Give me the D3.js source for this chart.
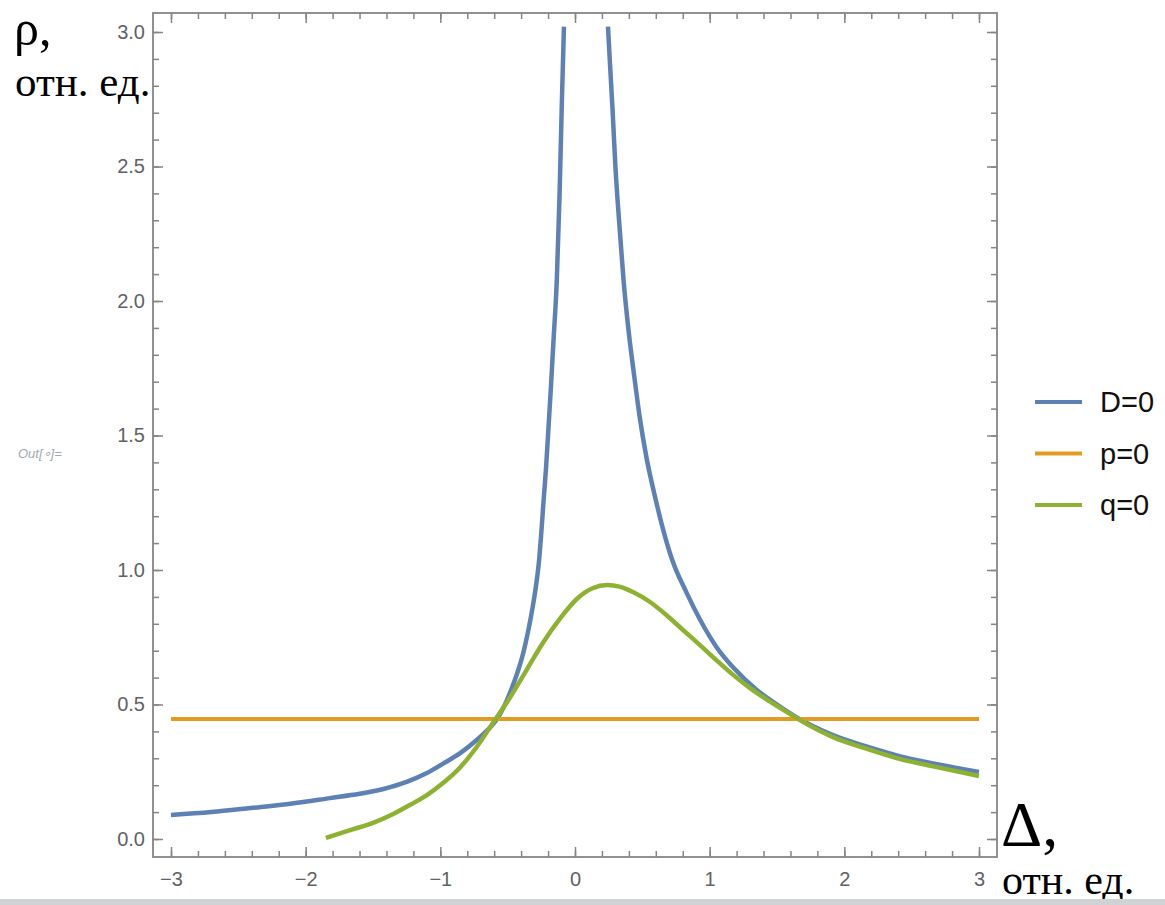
<!DOCTYPE html>
<html>
<head>
<meta charset="utf-8">
<script src="https://cdn.jsdelivr.net/npm/d3@7"></script>
<style>
  body { margin: 0; background: #fff; }
  svg { display: block; }
</style>
</head>
<body>
<div id="chart-area"></div>
<script>
// values
var dLeftX  = [-3.0, -2.7, -2.41, -2.1, -1.82, -1.6, -1.43, -1.25, -1.1, -0.98, -0.85, -0.73, -0.65, -0.58, -0.52, -0.47, -0.42, -0.38, -0.345, -0.315, -0.29, -0.268, -0.25, -0.233, -0.215, -0.198, -0.18, -0.16, -0.135, -0.115, -0.097, -0.082];
var dLeftY  = [0.089, 0.1, 0.115, 0.132, 0.152, 0.168, 0.185, 0.212, 0.245, 0.28, 0.32, 0.368, 0.405, 0.445, 0.5, 0.56, 0.63, 0.7, 0.78, 0.86, 0.94, 1.03, 1.14, 1.26, 1.38, 1.52, 1.67, 1.85, 2.08, 2.39, 2.75, 3.02];
var dRightX = [0.245, 0.26, 0.28, 0.3, 0.33, 0.36, 0.4, 0.44, 0.48, 0.53, 0.6, 0.66, 0.72, 0.83, 0.93, 1.05, 1.17, 1.35, 1.5, 1.67, 1.92, 2.17, 2.41, 2.66, 3.0];
var dRightY = [3.02, 2.88, 2.7, 2.5, 2.28, 2.08, 1.88, 1.72, 1.57, 1.42, 1.26, 1.14, 1.04, 0.914, 0.814, 0.714, 0.64, 0.554, 0.5, 0.445, 0.385, 0.343, 0.308, 0.281, 0.249];
var qX = [-1.85, -1.67, -1.5, -1.35, -1.22, -1.1, -0.98, -0.85, -0.73, -0.61, -0.48, -0.36, -0.24, -0.11, 0.015, 0.13, 0.24, 0.33, 0.43, 0.557, 0.68, 0.8, 0.93, 1.05, 1.17, 1.3, 1.42, 1.55, 1.67, 1.92, 2.17, 2.41, 2.66, 3.0];
var qY = [0.004, 0.033, 0.06, 0.093, 0.128, 0.163, 0.208, 0.268, 0.342, 0.431, 0.528, 0.628, 0.728, 0.82, 0.893, 0.932, 0.944, 0.938, 0.918, 0.881, 0.832, 0.778, 0.72, 0.665, 0.612, 0.561, 0.52, 0.479, 0.442, 0.378, 0.335, 0.298, 0.27, 0.234];
var pX = [-3.0, 3.0];
var pY = [0.446, 0.446];

var xMajor = [-3, -2, -1, 0, 1, 2, 3];
var xLabels = ["\u22123", "\u22122", "\u22121", "0", "1", "2", "3"];
var yMajor = [0, 0.5, 1, 1.5, 2, 2.5, 3];
var yLabels = ["0.0", "0.5", "1.0", "1.5", "2.0", "2.5", "3.0"];
var legendNames = ["D=0", "p=0", "q=0"];
var colors = ["#5e81b5", "#e19c24", "#8fb131"];

var width = 1165, height = 905;
var frame = {left: 153, top: 13, right: 997, bottom: 857};

var svg = d3.select("#chart-area").append("svg")
    .attr("width", width)
    .attr("height", height);

var x = d3.scaleLinear().domain([-3, 3]).range([171, 979]);
var y = d3.scaleLinear().domain([0, 3]).range([839, 32]);

var xMinor = d3.range(-30, 31, 2).map((d) => d / 10);
var yMinor = d3.range(0, 31, 1).map((d) => d / 10);

function styleAxis(sel) {
    sel.select(".domain").remove();
    sel.selectAll(".tick line").attr("stroke", "#858585").attr("stroke-width", 1.5);
    sel.selectAll(".tick text")
        .attr("fill", "#5f6266")
        .style("font-family", "'Liberation Sans', Arial, sans-serif")
        .style("font-size", "20px");
}

// minor ticks
svg.append("g").attr("transform", "translate(0," + frame.bottom + ")")
    .call(d3.axisBottom(x).tickValues(xMinor).tickSize(-6).tickFormat(""))
    .call(styleAxis);
svg.append("g").attr("transform", "translate(0," + frame.top + ")")
    .call(d3.axisTop(x).tickValues(xMinor).tickSize(-6).tickFormat(""))
    .call(styleAxis);
svg.append("g").attr("transform", "translate(" + frame.left + ",0)")
    .call(d3.axisLeft(y).tickValues(yMinor).tickSize(-6).tickFormat(""))
    .call(styleAxis);
svg.append("g").attr("transform", "translate(" + frame.right + ",0)")
    .call(d3.axisRight(y).tickValues(yMinor).tickSize(-6).tickFormat(""))
    .call(styleAxis);

// major ticks
svg.append("g").attr("transform", "translate(0," + frame.bottom + ")")
    .call(d3.axisBottom(x).tickValues(xMajor).tickSize(-10).tickPadding(15)
        .tickFormat((d, i) => xLabels[i]))
    .call(styleAxis);
svg.append("g").attr("transform", "translate(0," + frame.top + ")")
    .call(d3.axisTop(x).tickValues(xMajor).tickSize(-10).tickFormat(""))
    .call(styleAxis);
svg.append("g").attr("transform", "translate(" + frame.left + ",0)")
    .call(d3.axisLeft(y).tickValues(yMajor).tickSize(-10).tickPadding(8)
        .tickFormat((d, i) => yLabels[i]))
    .call(styleAxis);
svg.append("g").attr("transform", "translate(" + frame.right + ",0)")
    .call(d3.axisRight(y).tickValues(yMajor).tickSize(-10).tickFormat(""))
    .call(styleAxis);

svg.append("rect")
    .attr("x", frame.left).attr("y", frame.top)
    .attr("width", frame.right - frame.left)
    .attr("height", frame.bottom - frame.top)
    .attr("fill", "none")
    .attr("stroke", "#858585")
    .attr("stroke-width", 1.8);

var line = d3.line()
    .x((d) => x(d[0]))
    .y((d) => y(d[1]))
    .curve(d3.curveMonotoneX);

function pairs(xs, ys) { return xs.map((v, i) => [v, ys[i]]); }

var series = [
    {data: [pairs(dLeftX, dLeftY), pairs(dRightX, dRightY)], color: colors[0], w: 4.5},
    {data: [pairs(pX, pY)], color: colors[1], w: 4},
    {data: [pairs(qX, qY)], color: colors[2], w: 4.5}
];

series.forEach((s) => {
    s.data.forEach((pts) => {
        svg.append("path")
            .attr("fill", "none")
            .attr("stroke", s.color)
            .attr("stroke-width", s.w)
            .attr("d", line(pts));
    });
});

// legend
var legend = svg.append("g").attr("transform", "translate(1035,402)");
legendNames.forEach((name, i) => {
    var row = legend.append("g").attr("transform", "translate(0," + (i * 51.5) + ")");
    row.append("line")
        .attr("x1", 0).attr("x2", 47)
        .attr("stroke", colors[i]).attr("stroke-width", 4);
    row.append("text")
        .attr("x", 65).attr("y", 10)
        .style("font-family", "'Liberation Sans', Arial, sans-serif")
        .style("font-size", "29px")
        .attr("fill", "#111")
        .text(name);
});

// Out[] marker
svg.append("text")
    .attr("x", 18).attr("y", 458)
    .style("font-family", "'Liberation Sans', Arial, sans-serif")
    .style("font-size", "13px")
    .style("font-style", "italic")
    .attr("fill", "#a0a8b0")
    .text("Out[\u2218]=");

// axis captions
var serif = "'Liberation Serif', 'Times New Roman', serif";
svg.append("text").attr("x", 14).attr("y", 45)
    .style("font-family", serif).style("font-size", "50px")
    .text("\u03c1,");
svg.append("text").attr("x", 15).attr("y", 96)
    .style("font-family", serif).style("font-size", "43px")
    .text("отн. ед.");
svg.append("text").attr("x", 1001).attr("y", 846)
    .style("font-family", serif).style("font-size", "64px")
    .text("\u0394,");
svg.append("text").attr("x", 1002).attr("y", 894)
    .style("font-family", serif).style("font-size", "42px")
    .text("отн. ед.");

// grey strip along the bottom
svg.append("rect")
    .attr("x", 0).attr("y", 899)
    .attr("width", width).attr("height", height - 899)
    .attr("fill", "#cfd3d3");
</script>
</body>
</html>
